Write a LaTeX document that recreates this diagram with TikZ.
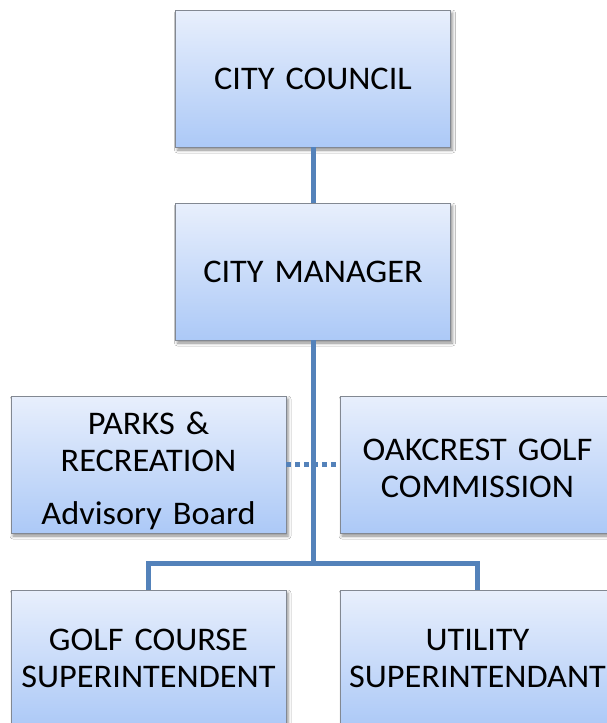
\documentclass[tikz,border=0pt]{standalone}
\usepackage{fontspec}
\setmainfont{Carlito}[FakeStretch=1.04, WordSpace=0.8]
\usetikzlibrary{shadows.blur}
\definecolor{boxtop}{RGB}{232,239,252}
\definecolor{boxbottom}{RGB}{172,201,247}
\definecolor{boxline}{RGB}{130,136,146}
\definecolor{linkblue}{RGB}{84,130,186}
% move a text block down while keeping its reported size
\newcommand{\lowered}[2]{\raisebox{-#1}[\height][\depth]{\parbox{272pt}{\centering #2}}}
\tikzset{
  unitbox/.style={
    draw=boxline, line width=0.8pt,
    shading=axis, top color=boxtop, bottom color=boxbottom,
    minimum width=275pt, minimum height=137pt,
    inner sep=0pt, align=center, text width=272pt,
    font=\fontsize{33}{37}\selectfont,
    blur shadow={shadow xshift=2pt, shadow yshift=-3pt,
                 shadow blur radius=3pt, shadow opacity=45}
  },
  link/.style={draw=linkblue, line width=5pt},
  advisorylink/.style={draw=linkblue, line width=5pt, dash pattern=on 5pt off 4pt}
}
\begin{document}
\begin{tikzpicture}[x=1pt, y=-1pt]
  \useasboundingbox (0,0) rectangle (607,723);
  \clip (0,0) rectangle (607,723);
  \fill[white] (0,0) rectangle (607,723);

  % connector junction on the branch bar
  \coordinate (bar) at (313,563);

  % boxes
  \node[unitbox] (council) at (313,78.5) {CITY COUNCIL};
  \node[unitbox] (manager) at (313,271.5) {CITY MANAGER};
  \node[unitbox] (parks) at (148.5,464.5) {\lowered{6pt}{PARKS \&\\RECREATION\\[16pt]Advisory Board}};
  \node[unitbox] (golfcomm) at (477.5,464.5) {\lowered{4pt}{OAKCREST GOLF\\COMMISSION}};
  \node[unitbox] (golfsup) at (148.5,658.5) {GOLF COURSE\\SUPERINTENDENT};
  \node[unitbox] (utilsup) at (477.5,658.5) {UTILITY\\SUPERINTENDANT};

  % connectors
  \draw[advisorylink] (parks.east) -- (golfcomm.west);
  \draw[link] (council.south) -- (manager.north);
  \draw[link] (manager.south) -- (bar);
  \draw[link] (golfsup.north) |- (bar) -| (utilsup.north);
\end{tikzpicture}
\end{document}
